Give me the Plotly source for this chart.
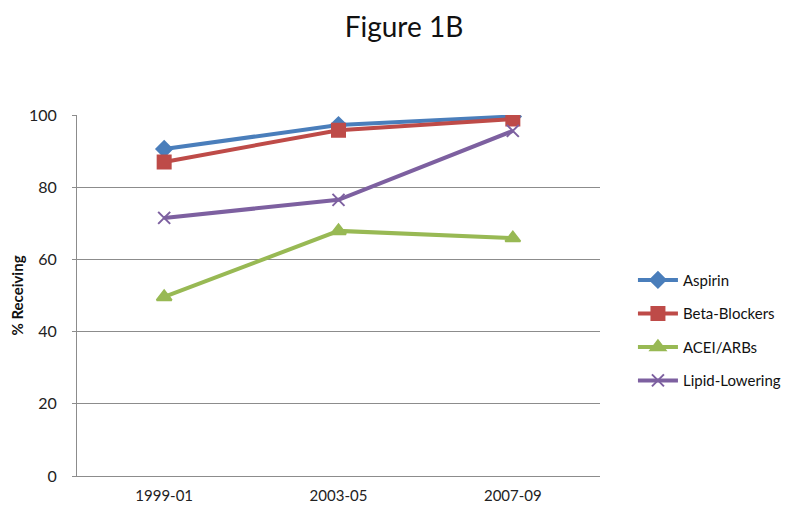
import plotly.graph_objects as go

categories = ["1999-01", "2003-05", "2007-09"]
aspirin = [90.6, 97.2, 99.6]
beta_blockers = [87.0, 95.8, 98.9]
acei_arbs = [49.6, 67.9, 65.9]
lipid_lowering = [71.5, 76.5, 95.6]

series = [
    ("Aspirin", aspirin, "#4a7ebb", "diamond", 12),
    ("Beta-Blockers", beta_blockers, "#be4b48", "square", 13),
    ("ACEI/ARBs", acei_arbs, "#98b954", "triangle-up", 13),
    ("Lipid-Lowering", lipid_lowering, "#7d60a0", "x-thin-open", 12),
]

fig = go.Figure()
for name, vals, color, sym, size in series:
    fig.add_trace(go.Scatter(
        x=categories, y=vals, name=name, mode="lines+markers",
        legendgroup=name,
        line=dict(color=color, width=4),
        marker=dict(symbol=sym, size=size, color=color,
                    line=dict(color=color, width=2)),
    ))

fig.update_layout(
    width=792, height=507,
    paper_bgcolor="white", plot_bgcolor="white",
    font=dict(family="Lato, Open Sans, sans-serif", color="#222"),
    title=dict(text="Figure 1B", x=0.5, xanchor="center", y=0.9625, yanchor="middle",
               font=dict(size=28, color="#111")),
    margin=dict(l=69, r=200, t=107, b=39),
    showlegend=True,
    legend=dict(x=1.063, y=0.404, xanchor="left", yanchor="middle",
                font=dict(size=15, color="#111"), tracegroupgap=11,
                itemwidth=40, bgcolor="rgba(0,0,0,0)"),
    xaxis=dict(
        type="category", range=[-0.5, 2.5],
        showgrid=False, showline=True, linecolor="#8c8c8c", linewidth=1,
        ticks="", tickfont=dict(size=15, color="#222"), zeroline=False,
        automargin=False, ticklabelstandoff=6,
    ),
    yaxis=dict(
        range=[0, 100], dtick=20, showgrid=True, gridcolor="#8c8c8c", gridwidth=1,
        showline=True, linecolor="#8c8c8c", linewidth=1,
        ticks="outside", ticklen=4, tickcolor="#8c8c8c",
        tickfont=dict(size=16, color="#222"), zeroline=False, automargin=False,
        ticklabelstandoff=12,
        title=dict(text="<b>% Receiving</b>", font=dict(size=15, color="#111"), standoff=8),
    ),
)

fig.write_html("out.html")
